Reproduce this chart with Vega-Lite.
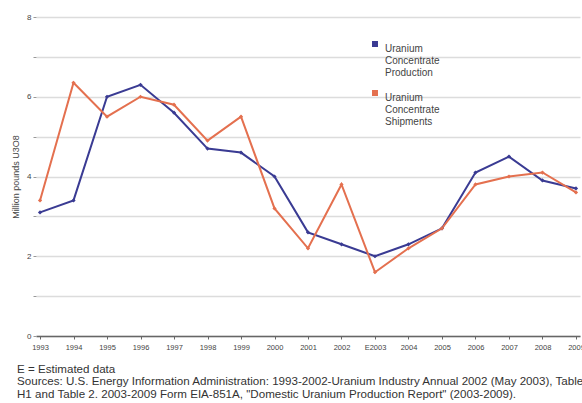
{
  "$schema": "https://vega.github.io/schema/vega-lite/v6.json",
  "width": 544,
  "height": 319,
  "autosize": "none",
  "padding": {"left": 36, "top": 17, "right": 2, "bottom": 67},
  "background": "white",
  "config": {"font": "Liberation Sans", "view": {"stroke": null}},
  "title": {
    "text": "E = Estimated data",
    "subtitle": ["Sources: U.S. Energy Information Administration: 1993-2002-Uranium Industry Annual 2002 (May 2003), Table", "H1 and Table 2. 2003-2009 Form EIA-851A, \"Domestic Uranium Production Report\" (2003-2009)."],
    "orient": "bottom",
    "anchor": "start",
    "frame": "group",
    "dx": -19,
    "offset": 13,
    "fontSize": 11.6,
    "fontWeight": "normal",
    "color": "#333",
    "subtitleFontSize": 11.6,
    "subtitleColor": "#333",
    "subtitlePadding": 1,
    "subtitleLineHeight": 12.5
  },
  "data": {
    "values": [
      {"year": "1993", "series": "Uranium Concentrate Production", "value": 3.1},
      {"year": "1994", "series": "Uranium Concentrate Production", "value": 3.4},
      {"year": "1995", "series": "Uranium Concentrate Production", "value": 6.0},
      {"year": "1996", "series": "Uranium Concentrate Production", "value": 6.3},
      {"year": "1997", "series": "Uranium Concentrate Production", "value": 5.6},
      {"year": "1998", "series": "Uranium Concentrate Production", "value": 4.7},
      {"year": "1999", "series": "Uranium Concentrate Production", "value": 4.6},
      {"year": "2000", "series": "Uranium Concentrate Production", "value": 4.0},
      {"year": "2001", "series": "Uranium Concentrate Production", "value": 2.6},
      {"year": "2002", "series": "Uranium Concentrate Production", "value": 2.3},
      {"year": "E2003", "series": "Uranium Concentrate Production", "value": 2.0},
      {"year": "2004", "series": "Uranium Concentrate Production", "value": 2.3},
      {"year": "2005", "series": "Uranium Concentrate Production", "value": 2.7},
      {"year": "2006", "series": "Uranium Concentrate Production", "value": 4.1},
      {"year": "2007", "series": "Uranium Concentrate Production", "value": 4.5},
      {"year": "2008", "series": "Uranium Concentrate Production", "value": 3.9},
      {"year": "2009", "series": "Uranium Concentrate Production", "value": 3.7},
      {"year": "1993", "series": "Uranium Concentrate Shipments", "value": 3.4},
      {"year": "1994", "series": "Uranium Concentrate Shipments", "value": 6.35},
      {"year": "1995", "series": "Uranium Concentrate Shipments", "value": 5.5},
      {"year": "1996", "series": "Uranium Concentrate Shipments", "value": 6.0},
      {"year": "1997", "series": "Uranium Concentrate Shipments", "value": 5.8},
      {"year": "1998", "series": "Uranium Concentrate Shipments", "value": 4.9},
      {"year": "1999", "series": "Uranium Concentrate Shipments", "value": 5.5},
      {"year": "2000", "series": "Uranium Concentrate Shipments", "value": 3.2},
      {"year": "2001", "series": "Uranium Concentrate Shipments", "value": 2.2},
      {"year": "2002", "series": "Uranium Concentrate Shipments", "value": 3.8},
      {"year": "E2003", "series": "Uranium Concentrate Shipments", "value": 1.6},
      {"year": "2004", "series": "Uranium Concentrate Shipments", "value": 2.2},
      {"year": "2005", "series": "Uranium Concentrate Shipments", "value": 2.7},
      {"year": "2006", "series": "Uranium Concentrate Shipments", "value": 3.8},
      {"year": "2007", "series": "Uranium Concentrate Shipments", "value": 4.0},
      {"year": "2008", "series": "Uranium Concentrate Shipments", "value": 4.1},
      {"year": "2009", "series": "Uranium Concentrate Shipments", "value": 3.6}
    ]
  },
  "encoding": {
    "x": {
      "field": "year",
      "type": "ordinal",
      "sort": null,
      "scale": {"type": "point", "padding": 0.12},
      "axis": {
        "title": null,
        "labelAngle": 0,
        "labelFontSize": 7.5,
        "labelColor": "#444",
        "domainColor": "#666",
        "domainWidth": 1.5,
        "tickColor": "#666",
        "tickSize": 3,
        "labelPadding": 4,
        "grid": false
      }
    },
    "y": {
      "field": "value",
      "type": "quantitative",
      "scale": {"domain": [0, 8], "nice": false},
      "axis": {
        "title": "Million pounds U3O8",
        "titleFontSize": 9,
        "titleFontWeight": "normal",
        "titleColor": "#444",
        "titlePadding": 6,
        "values": [0, 1, 2, 3, 4, 5, 6, 7, 8],
        "labelExpr": "datum.value % 2 == 0 ? datum.label : ''",
        "labelFontSize": 8,
        "labelColor": "#444",
        "domain": false,
        "tickSize": 3,
        "tickColor": "#999",
        "gridColor": "#dcdcdc",
        "gridWidth": 1.5
      }
    },
    "color": {
      "field": "series",
      "type": "nominal",
      "scale": {"range": ["#3a3b93", "#e4704f"]},
      "legend": {
        "title": null,
        "orient": "none",
        "legendX": 334,
        "legendY": 22,
        "labelExpr": "split(datum.label, ' ')",
        "labelFontSize": 10,
        "labelColor": "#444",
        "labelLineHeight": 12.5,
        "labelBaseline": "top",
        "labelOffset": 5,
        "symbolType": "square",
        "symbolSize": 20,
        "rowPadding": 9
      }
    }
  },
  "layer": [
    {"mark": {"type": "line", "strokeWidth": 2}},
    {"mark": {"type": "point", "shape": "diamond", "filled": true, "size": 18, "opacity": 1}}
  ]
}
